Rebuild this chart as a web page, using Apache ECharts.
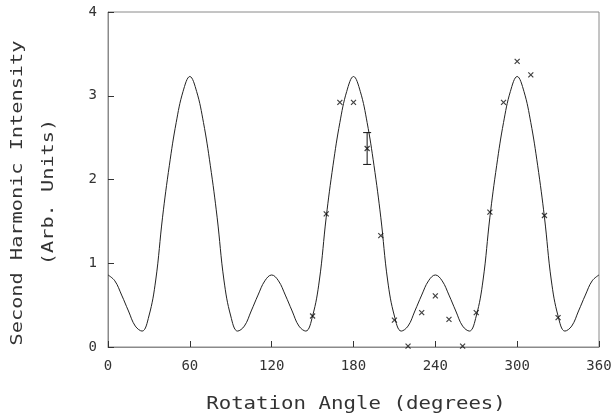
<!DOCTYPE html>
<html>
<head>
<meta charset="utf-8">
<script src="https://cdn.jsdelivr.net/npm/echarts@6/dist/echarts.min.js"></script>
<style>html,body{margin:0;padding:0;background:#fff;}#c{width:615px;height:420px;}</style>
</head>
<body>
<div id="c"></div>
<script>
// Theory curve, every 5 degrees
var curveAngles = [0,5,10,15,20,25,30,35,40,45,50,55,60,65,70,75,80,85,90,95,100,105,110,115,
  120,125,130,135,140,145,150,155,160,165,170,175,180,185,190,195,200,205,210,215,220,225,230,235,
  240,245,250,255,260,265,270,275,280,285,290,295,300,305,310,315,320,325,330,335,340,345,350,355,360];
var curveValues = [0.86,0.79,0.62,0.43,0.25,0.19,0.37,0.80,1.55,2.17,2.68,3.05,3.23,3.05,2.68,2.17,1.55,0.80,0.37,0.19,0.25,0.43,0.62,0.79,
  0.86,0.79,0.62,0.43,0.25,0.19,0.37,0.80,1.55,2.17,2.68,3.05,3.23,3.05,2.68,2.17,1.55,0.80,0.37,0.19,0.25,0.43,0.62,0.79,
  0.86,0.79,0.62,0.43,0.25,0.19,0.37,0.80,1.55,2.17,2.68,3.05,3.23,3.05,2.68,2.17,1.55,0.80,0.37,0.19,0.25,0.43,0.62,0.79,0.86];
// Measured points (crosses)
var pointAngles = [150,160,170,180,190,200,210,220,230,240,250,260,270,280,290,300,310,320,330];
var pointValues = [0.37,1.59,2.92,2.92,2.37,1.33,0.32,0.01,0.41,0.61,0.33,0.01,0.41,1.61,2.92,3.41,3.25,1.57,0.35];
// Error bar
var errAngle = [190];
var errLow = [2.18];
var errHigh = [2.56];
var xTicks = [0,60,120,180,240,300,360];
var yTicks = [0,1,2,3,4];

var chart = echarts.init(document.getElementById('c'), null, {renderer:'canvas'});
var lab = {fontFamily:'DejaVu Sans Mono', fontSize:14, color:'#333'};
var option = {
  animation:false,
  backgroundColor:'#fff',
  grid:{left:108,right:16,top:12,bottom:73,show:true,borderColor:'#8a8a8a',borderWidth:1,backgroundColor:'transparent'},
  xAxis:{type:'value',min:xTicks[0],max:xTicks[xTicks.length-1],interval:60,
    axisLine:{show:true,lineStyle:{color:'#8a8a8a',width:1}},
    axisTick:{show:true,inside:true,length:6,lineStyle:{color:'#333'}},
    splitLine:{show:false},
    axisLabel:Object.assign({margin:12},lab)},
  yAxis:{type:'value',min:yTicks[0],max:yTicks[yTicks.length-1],interval:1,
    axisLine:{show:true,lineStyle:{color:'#8a8a8a',width:1}},
    axisTick:{show:true,inside:true,length:6,lineStyle:{color:'#333'}},
    splitLine:{show:false},
    axisLabel:Object.assign({margin:11},lab)},
  graphic:[
    {type:'text',x:356,y:405,scaleX:1.22,style:{text:'Rotation Angle (degrees)',x:0,y:0,align:'center',verticalAlign:'middle',font:'17px DejaVu Sans Mono',fill:'#333'}},
    {type:'text',x:18,y:193,rotation:Math.PI/2,scaleX:1.35,style:{text:'Second Harmonic Intensity',x:0,y:0,align:'center',verticalAlign:'middle',font:'15px DejaVu Sans Mono',fill:'#333'}},
    {type:'text',x:49,y:192,rotation:Math.PI/2,scaleX:1.35,style:{text:'(Arb. Units)',x:0,y:0,align:'center',verticalAlign:'middle',font:'15px DejaVu Sans Mono',fill:'#333'}}
  ],
  series:[
    {type:'line',data:curveAngles.map(function(a,i){return [a,curveValues[i]];}),
      smooth:0.4,showSymbol:false,symbol:'none',lineStyle:{color:'#222',width:1},z:2},
    {type:'scatter',data:pointAngles.map(function(a,i){return [a,pointValues[i]];}),
      symbol:'path://M0,0L10,10M0,10L10,0',symbolSize:5,
      itemStyle:{color:'rgba(0,0,0,0)',borderColor:'#111',borderWidth:1.2},z:3},
    {type:'custom',data:errAngle.map(function(a,i){return [a,errLow[i],errHigh[i]];}),
      renderItem:function(params,api){
        var lo=api.coord([api.value(0),api.value(1)]);
        var hi=api.coord([api.value(0),api.value(2)]);
        var w=4;
        var st={stroke:'#111',lineWidth:1};
        return {type:'group',children:[
          {type:'line',shape:{x1:lo[0],y1:lo[1],x2:hi[0],y2:hi[1]},style:st},
          {type:'line',shape:{x1:lo[0]-w,y1:lo[1],x2:lo[0]+w,y2:lo[1]},style:st},
          {type:'line',shape:{x1:hi[0]-w,y1:hi[1],x2:hi[0]+w,y2:hi[1]},style:st}
        ]};
      },z:3}
  ]
};
chart.setOption(option);
</script>
</body>
</html>
